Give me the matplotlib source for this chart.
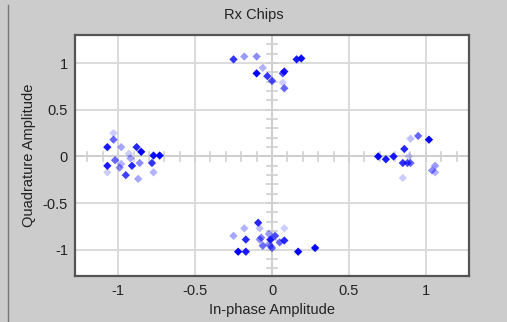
import numpy as np
import matplotlib
matplotlib.use("Agg")
import matplotlib.pyplot as plt
from matplotlib.lines import Line2D

plt.rcParams['font.family'] = ['Liberation Sans', 'DejaVu Sans']

title = "Rx Chips"
xlabel = "In-phase Amplitude"
ylabel = "Quadrature Amplitude"

# received chip constellation: in-phase, quadrature, intensity
i_vals = [
    # top
    -0.25, -0.18, -0.10, -0.06, -0.10, -0.03, 0.00, 0.07, 0.08, 0.07, 0.08, 0.16, 0.19,
    # left
    -1.03, -1.03, -1.07, -0.98, -0.88, -0.85, -0.77, -0.73, -1.07, -1.02, -0.98, -0.99,
    -0.93, -0.92, -0.91, -0.86, -0.78, -0.77, -1.07, -0.95, -0.87,
    # right
    0.69, 0.74, 0.79, 0.86, 0.90, 0.95, 1.02, 0.85, 0.88, 0.90, 0.89, 0.85, 1.06, 1.04, 1.06,
    # bottom
    -0.09, -0.18, -0.08, -0.25, -0.17, -0.08, -0.07, -0.06, -0.22, -0.17, -0.02, -0.01,
    0.02, 0.00, -0.02, 0.08, 0.05, 0.08, -0.01, 0.17, 0.28, -0.06,
]
q_vals = [
    1.04, 1.07, 1.07, 0.95, 0.89, 0.86, 0.81, 0.89, 0.91, 0.79, 0.73, 1.04, 1.05,
    0.25, 0.18, 0.10, 0.10, 0.10, 0.05, 0.01, 0.01, -0.10, -0.04, -0.08, -0.12,
    0.03, -0.02, -0.10, -0.07, -0.07, -0.17, -0.17, -0.20, -0.24,
    0.00, -0.03, 0.00, 0.08, 0.19, 0.22, 0.18, -0.07, -0.07, -0.07, 0.00, -0.23, -0.10, -0.15, -0.17,
    -0.71, -0.77, -0.77, -0.85, -0.89, -0.89, -0.87, -0.95, -1.02, -1.02, -0.83, -0.89,
    -0.85, -0.98, -0.94, -0.77, -0.92, -0.90, -0.96, -1.02, -0.98, -0.96,
]
intensity = [
    0.8, 0.4, 0.45, 0.3, 1.0, 0.8, 0.7, 0.7, 0.9, 0.2, 0.6, 0.9, 0.95,
    0.2, 0.6, 0.9, 0.35, 0.85, 1.0, 0.95, 1.0, 0.9, 0.6, 0.3, 0.45,
    0.2, 0.35, 0.85, 0.45, 0.8, 0.3, 0.2, 0.75, 0.35,
    1.0, 0.9, 0.9, 0.85, 0.25, 0.6, 1.0, 0.8, 0.7, 0.6, 0.2, 0.2, 0.4, 0.45, 0.3,
    0.85, 0.3, 0.25, 0.35, 0.85, 0.45, 0.5, 0.3, 1.0, 0.9, 0.4, 0.9,
    0.7, 0.6, 0.4, 0.2, 0.6, 0.85, 0.4, 1.0, 1.0, 0.4,
]

bg = '#cccccc'
fig = plt.figure(figsize=(5.07, 3.22), dpi=100, facecolor=bg)
ax = fig.add_axes([0.148, 0.143, 0.777, 0.748])
ax.set_facecolor('white')

ax.set_xlim(-1.28, 1.28)
ax.set_ylim(-1.28, 1.30)
ax.set_xticks([-1, -0.5, 0, 0.5, 1])
ax.set_xticklabels(['-1', '-0.5', '0', '0.5', '1'])
ax.set_yticks([-1, -0.5, 0, 0.5, 1])
ax.set_yticklabels(['-1', '-0.5', '0', '0.5', '1'])
ax.tick_params(length=0, labelsize=10.5, colors='#222222')
ax.tick_params(axis='x', pad=5.5)
ax.tick_params(axis='y', pad=5)
ax.grid(True, color='#dadada', lw=1.4)
ax.set_axisbelow(True)
for s in ax.spines.values():
    s.set_color('#555555')
    s.set_linewidth(1.6)

# centre cross with 0.1 tick marks
ax.axhline(0, color='#cfcfcf', lw=1.4, zorder=1)
ax.axvline(0, color='#cfcfcf', lw=1.4, zorder=1)
ticks = np.round(np.arange(-1.2, 1.21, 0.1), 2)
for t in ticks:
    if abs(t) < 1e-9:
        continue
    ax.plot([t, t], [-0.05, 0.05], color='#cfcfcf', lw=1.2, zorder=1)
    ax.plot([-0.035, 0.035], [t, t], color='#cfcfcf', lw=1.2, zorder=1)

colors = [(0, 0, 1, a) for a in intensity]
ax.scatter(i_vals, q_vals, marker='D', s=18, c=colors, linewidths=0, zorder=3)

fig.text(0.5, 0.953, title, ha='center', va='center', fontsize=10.5, color='#222222')
ax.set_xlabel(xlabel, fontsize=10.5, color='#222222', labelpad=4)
ax.set_ylabel(ylabel, fontsize=10.5, color='#222222', labelpad=5)

fig.add_artist(Line2D([7.5 / 507, 7.5 / 507], [0, 1 - 5 / 322], color='#777777', lw=1))

fig.savefig('out.png', dpi=100, facecolor=bg)
